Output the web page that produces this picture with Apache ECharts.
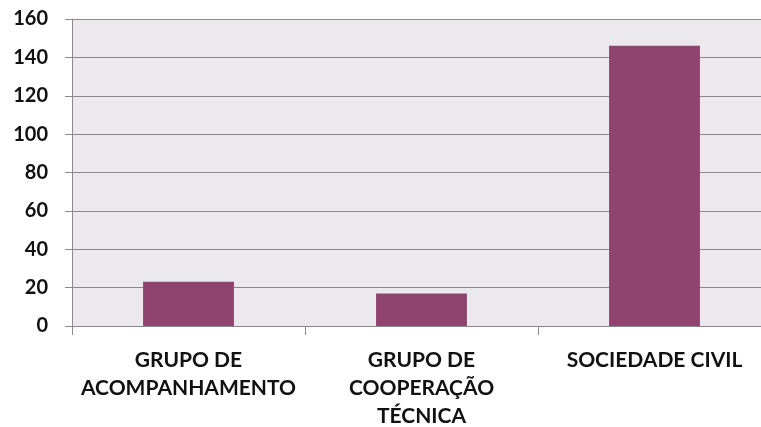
<!DOCTYPE html>
<html>
<head>
<meta charset="utf-8">
<script src="https://cdn.jsdelivr.net/npm/echarts@6/dist/echarts.min.js"></script>
<style>
  html, body { margin: 0; padding: 0; background: #fff; }
  #main { width: 761px; height: 427px; }
</style>
</head>
<body>
<div id="main"></div>
<script>
var categories = ['GRUPO DE\nACOMPANHAMENTO', 'GRUPO DE\nCOOPERAÇÃO\nTÉCNICA', 'SOCIEDADE CIVIL'];
var counts = [23, 17, 146];

var myChart = echarts.init(document.getElementById('main'));
var option = {
    animation: false,
    grid: {
        left: 72,
        right: -10,
        top: 19,
        bottom: 101,
        outerBoundsMode: 'none',
        containLabel: false,
        show: true,
        backgroundColor: '#EBE9EE',
        borderWidth: 0
    },
    xAxis: {
        type: 'category',
        data: categories,
        axisLine: { lineStyle: { color: '#8a8a8a', width: 1 } },
        axisTick: { show: true, length: 9, lineStyle: { color: '#8a8a8a' } },
        axisLabel: {
            color: '#111',
            fontFamily: 'Lato',
            fontWeight: 'bold',
            fontSize: 21,
            lineHeight: 28,
            margin: 20,
            interval: 0
        }
    },
    yAxis: {
        type: 'value',
        min: 0,
        max: 160,
        interval: 20,
        axisLine: { show: true, lineStyle: { color: '#8a8a8a' } },
        axisTick: { show: true, length: 7, lineStyle: { color: '#8a8a8a' } },
        splitLine: { lineStyle: { color: '#8a8a8a', width: 1 } },
        axisLabel: {
            color: '#111',
            fontFamily: 'Lato',
            fontWeight: 'bold',
            fontSize: 20,
            margin: 24
        }
    },
    series: [{
        name: 'Quantidade',
        type: 'bar',
        data: counts,
        barWidth: '39%',
        itemStyle: { color: '#8E446F' }
    }]
};
myChart.setOption(option);
</script>
</body>
</html>
